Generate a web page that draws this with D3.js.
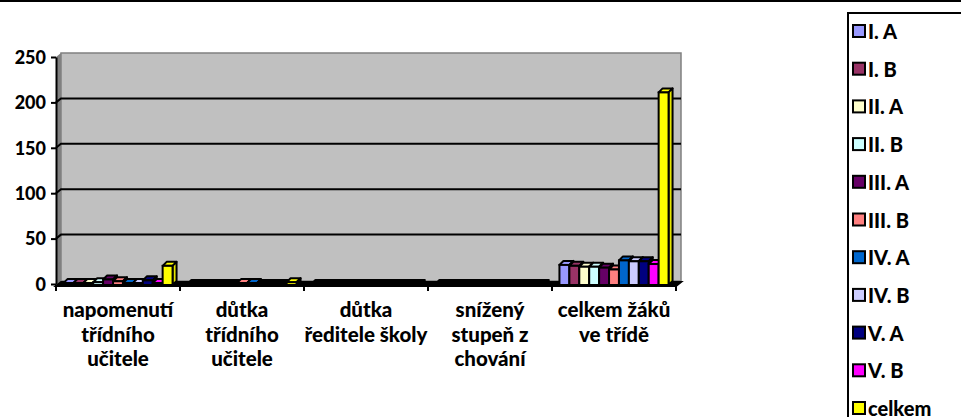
<!DOCTYPE html>
<html>
<head>
<meta charset="utf-8">
<script src="https://cdn.jsdelivr.net/npm/d3@7"></script>
<style>
  body { margin: 0; background: #fff; }
  svg { display: block; }
  text { font-family: Lato, "Open Sans", sans-serif; font-weight: 900; fill: #000; }
</style>
</head>
<body>
<svg id="chart" width="961" height="417"></svg>
<script>
"use strict";

// series (classes) and their colours
const seriesNames = ["I. A", "I. B", "II. A", "II. B", "III. A", "III. B", "IV. A", "IV. B", "V. A", "V. B", "celkem"];
const seriesColors = ["#9999FF", "#993366", "#FFFFCC", "#CCFFFF", "#660066", "#FF8080", "#0066CC", "#CCCCFF", "#000080", "#FF00FF", "#FFFF00"];

// categories, one label line per entry
const categoryLines = [
    ["napomenutí", "třídního", "učitele"],
    ["důtka", "třídního", "učitele"],
    ["důtka", "ředitele školy"],
    ["snížený", "stupeň z", "chování"],
    ["celkem žáků", "ve třídě"]
];

// values per category, in series order
const napomenuti = [1, 1, 1, 2, 5, 3, 1, 1, 4, 1, 20];
const dutkaTridniho = [0, 0, 0, 0, 0, 1, 1, 0, 0, 0, 2];
const dutkaReditele = [0, 0, 0, 0, 0, 0, 0, 0, 0, 0, 0];
const snizenyStupen = [0, 0, 0, 0, 0, 0, 0, 0, 0, 0, 0];
const celkemZaku = [21, 20, 19, 19, 18, 16, 26, 25, 25, 22, 211];

const yTicks = [0, 50, 100, 150, 200, 250];

const rows = [napomenuti, dutkaTridniho, dutkaReditele, snizenyStupen, celkemZaku];

const svg = d3.select("#chart");
const depth = { x: 5, y: -4 };   // wall offset
const bd = { x: 4, y: -4 };      // bar depth

const x0 = d3.scaleBand()
    .domain(d3.range(rows.length))
    .range([56, 676]);
const x1 = d3.scaleBand()
    .domain(d3.range(seriesNames.length))
    .range([0, x0.bandwidth()])
    .paddingOuter(0.75);
const y = d3.scaleLinear()
    .domain([0, 250])
    .range([284, 57]);

// top border of chart area
svg.append("rect").attr("x", 0).attr("y", 0).attr("width", 961).attr("height", 2).attr("fill", "#000");

// walls
const yBase = y(0) + 1;
const yTop = y(250);
svg.append("polygon")
    .attr("points", [[56, yBase], [56, yTop], [56 + depth.x, yTop + depth.y], [56 + depth.x, yBase + depth.y]].join(" "))
    .attr("fill", "#808080");
svg.append("rect")
    .attr("x", 56 + depth.x).attr("y", yTop + depth.y)
    .attr("width", 620).attr("height", yBase - yTop)
    .attr("fill", "#C0C0C0")
    .attr("stroke", "#808080").attr("stroke-width", 1.5);

// gridlines on the back wall
svg.append("g").selectAll("path")
    .data(yTicks.filter(d => d > 0 && d < 250))
    .enter().append("path")
    .attr("d", d => `M56,${y(d)}L${56 + depth.x},${y(d) + depth.y}H${676 + depth.x}`)
    .attr("fill", "none")
    .attr("stroke", "#000").attr("stroke-width", 2);

// floor
svg.append("polygon")
    .attr("points", [[56, yBase + 1], [676, yBase + 1], [676 + depth.x, yBase + depth.y + 1], [56 + depth.x, yBase + depth.y + 1]].join(" "))
    .attr("fill", "#000").attr("stroke", "#000").attr("stroke-width", 2);

// bars
rows.forEach((row, ci) => {
    const g = svg.append("g").attr("transform", `translate(${x0(ci)},0)`);
    const bar = g.selectAll(".bar")
        .data(row)
        .enter().append("g")
        .attr("class", "bar");
    const w = x1.bandwidth();
    const top = d => Math.min(y(d), yBase);
    bar.append("polygon") // top
        .attr("points", (d, i) => {
            const l = x1(i), t = top(d);
            return [[l, t], [l + bd.x, t + bd.y], [l + w + bd.x, t + bd.y], [l + w, t]].join(" ");
        })
        .attr("fill", (d, i) => d > 0 ? seriesColors[i] : "#000")
        .attr("stroke", "#000").attr("stroke-width", 2).attr("stroke-linejoin", "round");
    bar.append("polygon") // side
        .attr("points", (d, i) => {
            const r = x1(i) + w, t = top(d);
            return [[r, t], [r + bd.x, t + bd.y], [r + bd.x, yBase + bd.y], [r, yBase]].join(" ");
        })
        .attr("fill", (d, i) => d3.color(seriesColors[i]).darker(0.3))
        .attr("stroke", "#000").attr("stroke-width", 2).attr("stroke-linejoin", "round");
    bar.append("rect") // front
        .attr("x", (d, i) => x1(i))
        .attr("y", d => top(d))
        .attr("width", w)
        .attr("height", d => yBase - top(d))
        .attr("fill", (d, i) => seriesColors[i])
        .attr("stroke", "#000").attr("stroke-width", 2);
});

// value axis
const yAxis = svg.append("g")
    .attr("transform", "translate(56,0)")
    .call(d3.axisLeft(y).tickValues(yTicks).tickSize(5).tickSizeOuter(0).tickPadding(5));
yAxis.select(".domain").attr("stroke", "#000").attr("stroke-width", 2);
yAxis.selectAll(".tick line").attr("stroke", "#000").attr("stroke-width", 2);
yAxis.selectAll(".tick text").attr("font-family", null).attr("font-size", 18).attr("dy", "0.35em");

// category axis ticks
svg.append("g").selectAll("line")
    .data(d3.range(rows.length + 1))
    .enter().append("line")
    .attr("x1", i => 56 + i * x0.step()).attr("x2", i => 56 + i * x0.step())
    .attr("y1", yBase).attr("y2", yBase + 6)
    .attr("stroke", "#000").attr("stroke-width", 2);

// category labels
const labels = svg.append("g").selectAll("text")
    .data(categoryLines)
    .enter().append("text")
    .attr("x", (d, i) => x0(i) + x0.bandwidth() / 2)
    .attr("y", 317)
    .attr("text-anchor", "middle")
    .attr("font-size", 20.5);
labels.selectAll("tspan")
    .data((d, i) => d.map(t => ({ t, x: x0(i) + x0.bandwidth() / 2 })))
    .enter().append("tspan")
    .attr("x", d => d.x)
    .attr("dy", (d, i) => i === 0 ? 0 : 24.5)
    .text(d => d.t);

// legend
const legend = svg.append("g").attr("transform", "translate(848,13)");
legend.append("rect")
    .attr("width", 130).attr("height", 420)
    .attr("fill", "#fff").attr("stroke", "#000").attr("stroke-width", 2);
const item = legend.selectAll(".item")
    .data(seriesNames)
    .enter().append("g")
    .attr("class", "item")
    .attr("transform", (d, i) => `translate(0,${18 + i * 37.7})`);
item.append("rect")
    .attr("x", 5).attr("y", -6).attr("width", 12).attr("height", 12)
    .attr("fill", (d, i) => seriesColors[i])
    .attr("stroke", "#000").attr("stroke-width", 2);
item.append("text")
    .attr("x", 20).attr("y", 1).attr("dy", "0.35em")
    .attr("font-size", 20)
    .text(d => d);
</script>
</body>
</html>
